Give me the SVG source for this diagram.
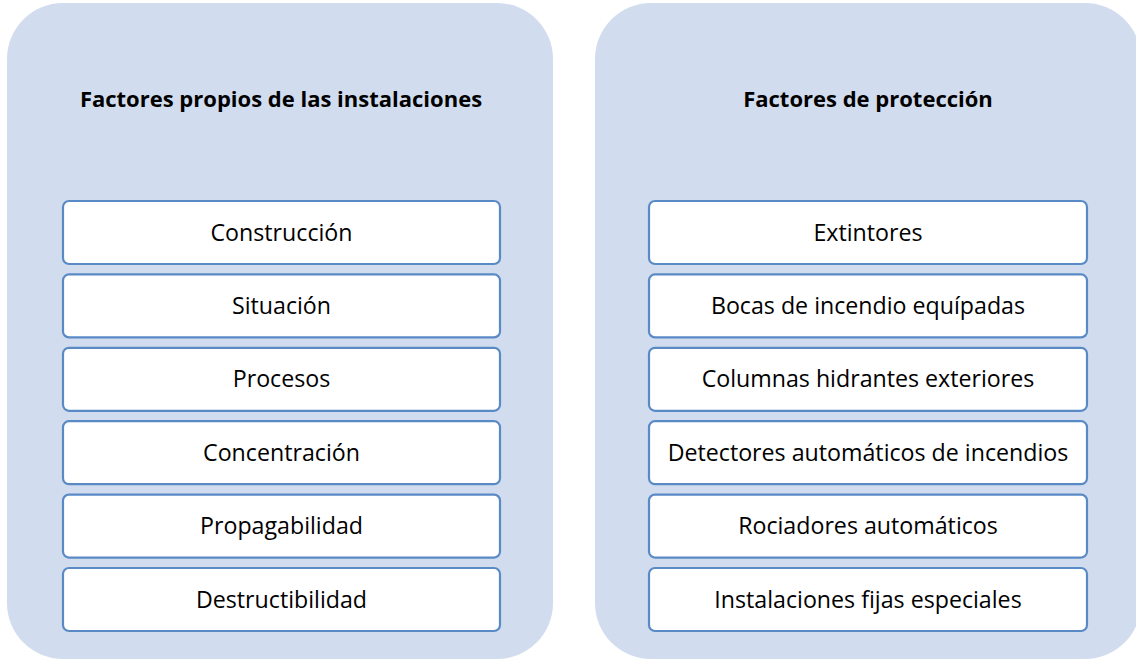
<svg xmlns="http://www.w3.org/2000/svg" width="1136" height="660" viewBox="0 0 1136 660">
<style>
.panel{fill:#D1DCEE}
.box{fill:#FFFFFF;stroke:#5A8AC6;stroke-width:2.2}
.t{font-family:"Open Sans","Liberation Sans",sans-serif;font-size:23.2px;fill:#000;text-anchor:middle}
.h{font-family:"Open Sans","Liberation Sans",sans-serif;font-size:22px;font-weight:bold;fill:#000;text-anchor:middle}
</style>
<rect width="1136" height="660" fill="#FFFFFF"/>
<g id="left-panel">
<rect class="panel" x="7" y="3" width="546" height="656" rx="56" ry="56"/>
<text class="h" x="281" y="106.5">Factores propios de las instalaciones</text>
</g>
<g id="right-panel">
<rect class="panel" x="595" y="3" width="546" height="656" rx="56" ry="56"/>
<text class="h" x="868" y="106.5">Factores de protección</text>
</g>
<g id="left-items">
<g id="l1"><rect class="box" x="63" y="201" width="437" height="63" rx="6"/><text class="t" x="281.5" y="240.5">Construcción</text></g>
<g id="l2"><rect class="box" x="63" y="274.4" width="437" height="63" rx="6"/><text class="t" x="281.5" y="313.9">Situación</text></g>
<g id="l3"><rect class="box" x="63" y="347.8" width="437" height="63" rx="6"/><text class="t" x="281.5" y="387.3">Procesos</text></g>
<g id="l4"><rect class="box" x="63" y="421.2" width="437" height="63" rx="6"/><text class="t" x="281.5" y="460.7">Concentración</text></g>
<g id="l5"><rect class="box" x="63" y="494.6" width="437" height="63" rx="6"/><text class="t" x="281.5" y="534.1">Propagabilidad</text></g>
<g id="l6"><rect class="box" x="63" y="568" width="437" height="63" rx="6"/><text class="t" x="281.5" y="607.5">Destructibilidad</text></g>
</g>
<g id="right-items">
<g id="r1"><rect class="box" x="649" y="201" width="438" height="63" rx="6"/><text class="t" x="868" y="240.5">Extintores</text></g>
<g id="r2"><rect class="box" x="649" y="274.4" width="438" height="63" rx="6"/><text class="t" x="868" y="313.9">Bocas de incendio equípadas</text></g>
<g id="r3"><rect class="box" x="649" y="347.8" width="438" height="63" rx="6"/><text class="t" x="868" y="387.3">Columnas hidrantes exteriores</text></g>
<g id="r4"><rect class="box" x="649" y="421.2" width="438" height="63" rx="6"/><text class="t" x="868" y="460.7">Detectores automáticos de incendios</text></g>
<g id="r5"><rect class="box" x="649" y="494.6" width="438" height="63" rx="6"/><text class="t" x="868" y="534.1">Rociadores automáticos</text></g>
<g id="r6"><rect class="box" x="649" y="568" width="438" height="63" rx="6"/><text class="t" x="868" y="607.5">Instalaciones fijas especiales</text></g>
</g>
<g id="connectors"/>
</svg>
